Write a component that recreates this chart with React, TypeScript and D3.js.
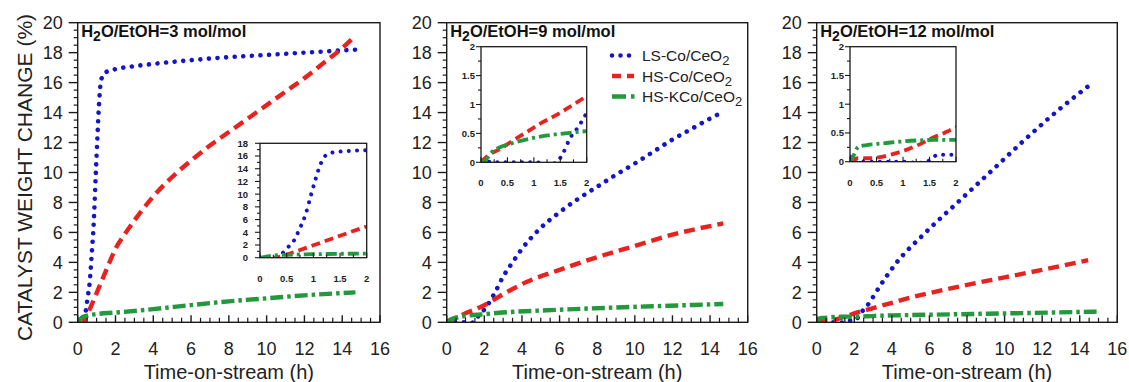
import React from "react";
import * as d3 from "d3";

type P = [number, number];

// ---------- data ----------
const titleRatios = ["3", "9", "12"];
const seriesNames = ["LS-Co/CeO", "HS-Co/CeO", "HS-KCo/CeO"];
const xTickValues = [0, 2, 4, 6, 8, 10, 12, 14, 16];
const yTickValues = [0, 2, 4, 6, 8, 10, 12, 14, 16, 18, 20];
const insetXTickValues = [0, 0.5, 1, 1.5, 2];
const insetYTicksWide = [0, 2, 4, 6, 8, 10, 12, 14, 16, 18];
const insetYTicksNarrow = [0, 0.5, 1, 1.5, 2];

// H2O/EtOH = 3
const ls3: P[] = [[0, 0], [0.2, 0], [0.35, 0.2], [0.42, 0.7], [0.52, 1.6], [0.63, 2.6], [0.74, 4.5], [0.85, 6.7], [0.96, 10.0], [1.04, 12.3], [1.13, 14.6], [1.2, 15.8], [1.3, 16.4], [1.5, 16.7], [2, 16.9], [3, 17.1], [4, 17.25], [6, 17.5], [8, 17.7], [10, 17.85], [12, 18.0], [14, 18.15], [14.7, 18.2]];
const hs3: P[] = [[0.22, -0.25], [0.5, 0.5], [0.75, 1.2], [1.0, 1.95], [1.25, 2.7], [1.5, 3.45], [1.75, 4.2], [2.0, 4.9], [2.5, 5.9], [3, 6.8], [4, 8.4], [5, 9.7], [6, 10.8], [7, 11.8], [8, 12.7], [9, 13.6], [10, 14.5], [11, 15.4], [12, 16.3], [13, 17.3], [14, 18.3], [14.6, 19.0]];
const k3: P[] = [[0, 0], [0.1, 0.15], [0.25, 0.35], [0.5, 0.45], [1, 0.55], [2, 0.65], [4, 0.88], [6, 1.15], [8, 1.4], [10, 1.6], [12, 1.8], [14.7, 2.0]];

// H2O/EtOH = 9
const ls9: P[] = [[0, 0.03], [0.3, 0], [1.05, 0], [1.2, -0.03], [1.34, -0.03], [1.46, 0.03], [1.56, 0.17], [1.68, 0.41], [1.84, 0.61], [1.94, 0.76], [2.2, 1.2], [2.57, 2.0], [3.0, 3.05], [3.5, 4.0], [4.0, 4.9], [5.0, 6.3], [6.0, 7.35], [7.0, 8.25], [8.0, 9.05], [9.0, 9.85], [10.0, 10.6], [11.0, 11.4], [12.0, 12.2], [13.0, 12.9], [14.0, 13.6], [14.7, 14.05]];
const hs9: P[] = [[0, 0], [0.14, 0.12], [0.36, 0.23], [0.61, 0.38], [0.86, 0.52], [1.12, 0.67], [1.43, 0.82], [1.68, 0.96], [1.94, 1.11], [2.5, 1.5], [3, 1.88], [3.5, 2.22], [4, 2.55], [6, 3.5], [8, 4.35], [10, 5.1], [12, 5.85], [14.7, 6.6]];
const k9: P[] = [[0, -0.03], [0.1, 0.05], [0.2, 0.17], [0.36, 0.26], [0.55, 0.32], [0.93, 0.41], [1.3, 0.47], [1.68, 0.51], [2.0, 0.54], [2.66, 0.62], [5.3, 0.8], [8.86, 0.98], [12.4, 1.13], [14.7, 1.22]];

// H2O/EtOH = 12
const ls12: P[] = [[0, 0.09], [0.06, 0], [0.32, 0], [0.95, 0], [1.33, -0.02], [1.52, 0.03], [1.65, 0.12], [2.0, 0.12], [2.4, 0.7], [2.84, 1.37], [3.1, 1.9], [4.2, 3.9], [5.8, 6.0], [7.5, 8.0], [9.3, 10.1], [11.0, 12.1], [12.8, 14.1], [14.7, 16.0]];
const hs12: P[] = [[0, 0], [0.16, 0.06], [0.38, 0.06], [0.57, 0.08], [0.76, 0.12], [0.95, 0.17], [1.21, 0.26], [1.4, 0.34], [1.59, 0.43], [1.78, 0.5], [1.87, 0.54], [2.13, 0.65], [3, 0.95], [4, 1.3], [5, 1.65], [6, 1.95], [8, 2.5], [10, 3.0], [12, 3.5], [14.45, 4.15]];
const k12: P[] = [[0, -0.03], [0.06, 0.09], [0.16, 0.26], [0.32, 0.29], [0.63, 0.32], [0.95, 0.35], [1.27, 0.37], [1.59, 0.38], [2.0, 0.38], [3.1, 0.43], [4.1, 0.46], [7.6, 0.54], [11.2, 0.62], [14.9, 0.71]];

// ---------- styles / layout ----------
const FONT = "'Liberation Sans', Arial, Helvetica, sans-serif";
const AXIS = "#1a1a1a";
const COLORS = ["#1414c8", "#e8231f", "#23983c"];
const mainStyles = [
  { dash: "0.01 8.6", cap: "round", w: 4.6 },
  { dash: "11 6", cap: "butt", w: 4.4 },
  { dash: "13 4 3.5 4", cap: "butt", w: 4.4 },
];
const insetStyles = [
  { dash: "0.01 8.2", cap: "round", w: 4.0 },
  { dash: "9 5", cap: "butt", w: 3.8 },
  { dash: "11 4 3 4", cap: "butt", w: 3.8 },
];

const TOP = 22.7;
const BOTTOM = 322.3;
const panelsLayout = [
  { left: 77.7, right: 380 },
  { left: 446.7, right: 747.7 },
  { left: 816.7, right: 1117.3 },
];
const insetsLayout = [
  { left: 260, right: 366.7, top: 143.3, bottom: 257.7, yMax: 18, ticks: insetYTicksWide, minor: 1, gap: 12 },
  { left: 481, right: 586.7, top: 46.7, bottom: 162.3, yMax: 2, ticks: insetYTicksNarrow, minor: 0.25, gap: 6 },
  { left: 850, right: 956, top: 46.7, bottom: 161.7, yMax: 2, ticks: insetYTicksNarrow, minor: 0.25, gap: 6 },
];
const panelData: P[][][] = [
  [ls3, hs3, k3],
  [ls9, hs9, k9],
  [ls12, hs12, k12],
];

function Series({ data, x, y, color, st }: any) {
  const line = d3
    .line<P>()
    .x((d) => x(d[0]))
    .y((d) => y(d[1]))
    .curve(d3.curveMonotoneX);
  return (
    <path
      d={line(data) || ""}
      fill="none"
      stroke={color}
      strokeWidth={st.w}
      strokeDasharray={st.dash}
      strokeLinecap={st.cap}
    />
  );
}

function Panel({ idx }: { idx: number }) {
  const L = panelsLayout[idx];
  const x = d3.scaleLinear().domain([0, 16]).range([L.left, L.right]);
  const y = d3.scaleLinear().domain([0, 20]).range([BOTTOM, TOP]);
  const minorX = d3.range(0, 16.001, 0.5).filter((v) => Math.abs(v % 2) > 1e-6);
  const minorY = d3.range(0, 20.001, 0.5).filter((v) => Math.abs(v % 2) > 1e-6);
  const I = insetsLayout[idx];
  const ix = d3.scaleLinear().domain([0, 2]).range([I.left, I.right]);
  const iy = d3.scaleLinear().domain([0, I.yMax]).range([I.bottom, I.top]);
  const iMinorY = d3.range(0, I.yMax + 1e-6, I.minor);
  const iMinorX = d3.range(0, 2.0001, 0.25);
  const clipMain = `clipMain${idx}`;
  const clipInset = `clipInset${idx}`;
  const fmt = (v: number) => String(v);
  return (
    <g>
      <defs>
        <clipPath id={clipMain}>
          <rect x={L.left} y={TOP} width={L.right - L.left} height={BOTTOM - TOP} />
        </clipPath>
        <clipPath id={clipInset}>
          <rect x={I.left} y={I.top} width={I.right - I.left} height={I.bottom - I.top} />
        </clipPath>
      </defs>
      <g clipPath={`url(#${clipMain})`}>
        {panelData[idx].map((d, i) => (
          <Series key={i} data={d} x={x} y={y} color={COLORS[i]} st={mainStyles[i]} />
        ))}
      </g>
      <rect x={L.left} y={TOP} width={L.right - L.left} height={BOTTOM - TOP} fill="none" stroke={AXIS} strokeWidth={1.4} />
      {yTickValues.map((v) => (
        <g key={"y" + v}>
          <line x1={L.left - 9} x2={L.left} y1={y(v)} y2={y(v)} stroke={AXIS} strokeWidth={1.4} />
          <text x={L.left - 15} y={y(v)} dy="0.36em" textAnchor="end" fontSize={18} fill="#222" fontFamily={FONT}>
            {v}
          </text>
        </g>
      ))}
      {minorY.map((v) => (
        <line key={"ym" + v} x1={L.left - 4} x2={L.left} y1={y(v)} y2={y(v)} stroke={AXIS} strokeWidth={1.2} />
      ))}
      {xTickValues.map((v) => (
        <g key={"x" + v}>
          <line x1={x(v)} x2={x(v)} y1={BOTTOM} y2={BOTTOM - 7} stroke={AXIS} strokeWidth={1.4} />
          <text x={x(v)} y={355} textAnchor="middle" fontSize={18} fill="#222" fontFamily={FONT}>
            {v}
          </text>
        </g>
      ))}
      {minorX.map((v) => (
        <line key={"xm" + v} x1={x(v)} x2={x(v)} y1={BOTTOM} y2={BOTTOM - 4.5} stroke={AXIS} strokeWidth={1.2} />
      ))}
      <text x={(L.left + L.right) / 2} y={379} textAnchor="middle" fontSize={20} fill="#222" fontFamily={FONT}>
        Time-on-stream (h)
      </text>
      <text x={L.left + 3.5} y={37} fontSize={16.5} fontWeight="bold" fill="#111" fontFamily={FONT}>
        H<tspan fontSize={14} dy={4}>2</tspan>
        <tspan dy={-4}>O/EtOH={titleRatios[idx]} mol/mol</tspan>
      </text>
      <rect x={I.left} y={I.top} width={I.right - I.left} height={I.bottom - I.top} fill="#fff" />
      <g clipPath={`url(#${clipInset})`}>
        {panelData[idx].map((d, i) => (
          <Series key={i} data={d.filter((p) => p[0] <= 2.6)} x={ix} y={iy} color={COLORS[i]} st={insetStyles[i]} />
        ))}
      </g>
      <rect x={I.left} y={I.top} width={I.right - I.left} height={I.bottom - I.top} fill="none" stroke={AXIS} strokeWidth={1.3} />
      {iMinorY.map((v) => (
        <line key={"iym" + v} x1={I.left - (I.ticks.includes(v) ? 5 : 3)} x2={I.left} y1={iy(v)} y2={iy(v)} stroke={AXIS} strokeWidth={1.1} />
      ))}
      {I.ticks.map((v) => (
        <text key={"iy" + v} x={I.left - I.gap} y={iy(v)} dy="0.36em" textAnchor="end" fontSize={9.5} fontWeight="bold" fill="#222" fontFamily={FONT}>
          {fmt(v)}
        </text>
      ))}
      {iMinorX.map((v) => (
        <line key={"ixm" + v} x1={ix(v)} x2={ix(v)} y1={I.bottom} y2={I.bottom - (insetXTickValues.includes(v) ? 5 : 3)} stroke={AXIS} strokeWidth={1.1} />
      ))}
      {insetXTickValues.map((v) => (
        <text key={"ix" + v} x={ix(v)} y={I.bottom + 24} textAnchor="middle" fontSize={9.5} fontWeight="bold" fill="#222" fontFamily={FONT}>
          {fmt(v)}
        </text>
      ))}
    </g>
  );
}

function Legend() {
  const x0 = 612;
  const x1 = 634;
  const rows = [55.5, 76, 96.5];
  return (
    <g>
      {seriesNames.map((name, i) => (
        <g key={name}>
          <line
            x1={x0}
            x2={i === 2 ? x1 + 2 : x1}
            y1={rows[i]}
            y2={rows[i]}
            stroke={COLORS[i]}
            strokeWidth={mainStyles[i].w}
            strokeDasharray={i === 0 ? "0.01 8.5" : i === 1 ? "9 6" : "14 5 3.5 4"}
            strokeLinecap={mainStyles[i].cap as any}
          />
          <text x={642} y={rows[i] + 5.5} fontSize={15.5} fill="#222" fontFamily={FONT}>
            {name}
            <tspan fontSize={13} dy={4}>2</tspan>
          </text>
        </g>
      ))}
    </g>
  );
}

export default function App() {
  return (
    <svg
      width={1129}
      height={382}
      viewBox="0 0 1129 382"
      style={{ position: "absolute", left: 0, top: 0, background: "#fff" }}
    >
      <rect x={0} y={0} width={1129} height={382} fill="#fff" />
      <text
        transform={`translate(32, ${(TOP + BOTTOM) / 2 + 5}) rotate(-90)`}
        textAnchor="middle"
        fontSize={21}
        fill="#222"
        fontFamily={FONT}
      >
        CATALYST WEIGHT CHANGE (%)
      </text>
      {[0, 1, 2].map((i) => (
        <Panel key={i} idx={i} />
      ))}
      <Legend />
    </svg>
  );
}
